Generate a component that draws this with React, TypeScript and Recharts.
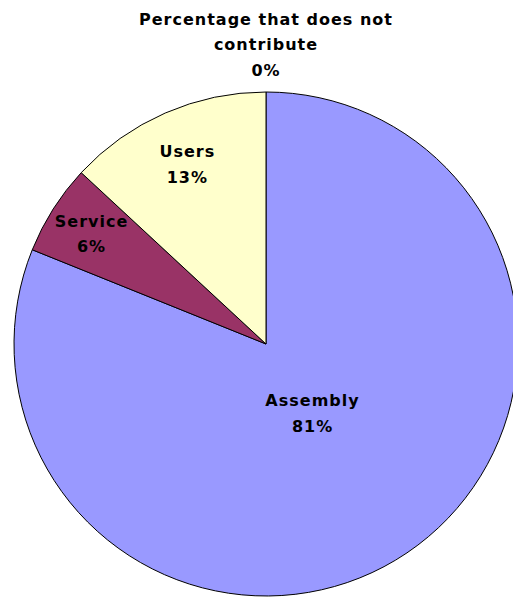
import { PieChart, Pie, Cell } from 'recharts';

// share of contribution (labels are rounded)
const categories = ['Assembly', 'Service', 'Users', 'Percentage that does not contribute'];
const shares = [81.1, 5.8, 13.1, 0];
const labelLines = [['Assembly'], ['Service'], ['Users'], ['Percentage that does not', 'contribute']];

const COLORS = ['#9999ff', '#993366', '#ffffcc', '#ffffff'];
// where each label sits, as a fraction of the radius (Excel's "best fit")
const LABEL_RADIUS = [0.33, 0.82, 0.78, 1.19];

const data = categories.map((name, i) => ({ name, value: shares[i] }));

const FONT = '"DejaVu Sans", Verdana, sans-serif';

function renderLabel(props: any) {
  const { cx, cy, midAngle, outerRadius, index, percent } = props;
  const RAD = Math.PI / 180;
  const r = outerRadius * LABEL_RADIUS[index];
  const x = cx + r * Math.cos(-midAngle * RAD);
  const y = cy + r * Math.sin(-midAngle * RAD);
  const lines = [...labelLines[index], `${Math.round((percent || 0) * 100)}%`];
  const lh = 25.5;
  const top = y - ((lines.length - 1) * lh) / 2;
  return (
    <text
      x={x}
      y={top}
      textAnchor="middle"
      dominantBaseline="central"
      fill="#000"
      fontFamily={FONT}
      fontWeight="bold"
      fontSize={16}
      letterSpacing={1}
    >
      {lines.map((l, i) => (
        <tspan key={i} x={x} dy={i === 0 ? 0 : lh}>
          {l}
        </tspan>
      ))}
    </text>
  );
}

export default function App() {
  return (
    <div style={{ position: 'absolute', left: 0, top: 0, width: 513, height: 611, overflow: 'hidden', background: '#fff' }}>
      <PieChart width={540} height={611} margin={{ top: 0, right: 0, bottom: 0, left: 0 }}>
        <Pie
          data={data}
          dataKey="value"
          nameKey="name"
          cx={266}
          cy={344}
          outerRadius={252}
          startAngle={90}
          endAngle={-270}
          stroke="#000"
          strokeWidth={1}
          label={renderLabel}
          labelLine={false}
          isAnimationActive={false}
        >
          {data.map((entry, index) => (
            <Cell key={`cell-${index}`} fill={COLORS[index]} />
          ))}
        </Pie>
      </PieChart>
    </div>
  );
}
